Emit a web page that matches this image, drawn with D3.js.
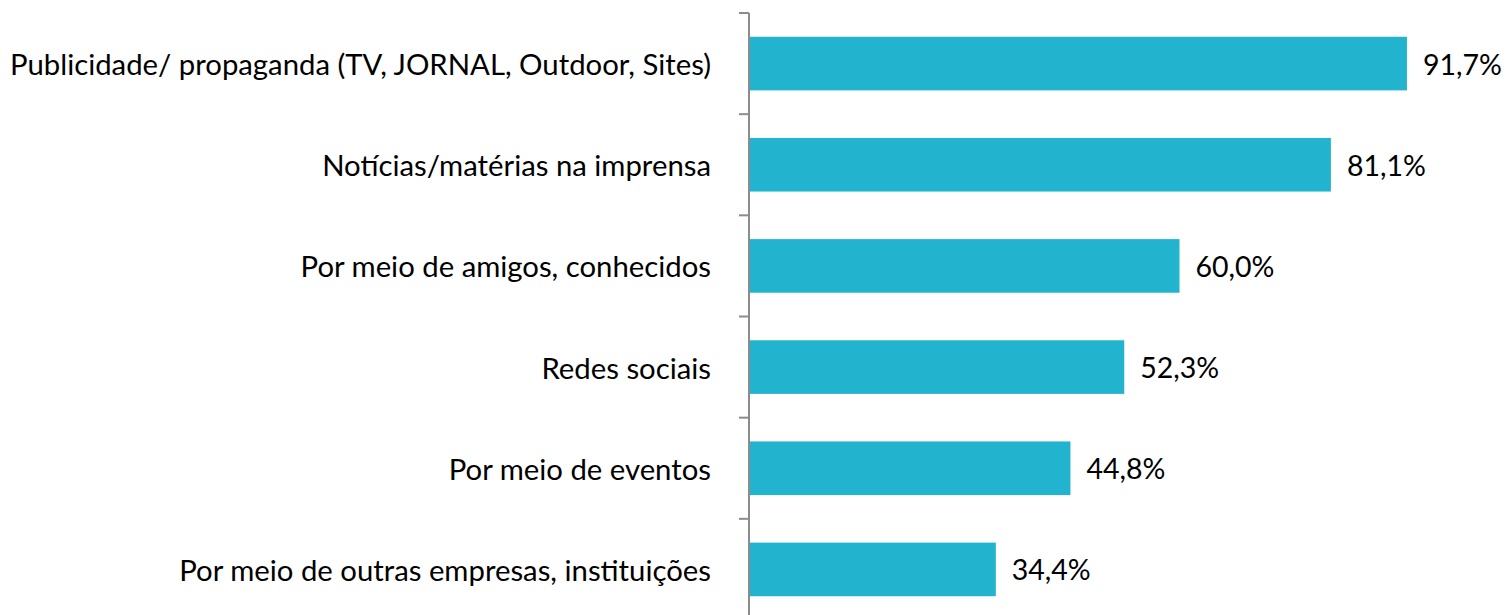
<!DOCTYPE html>
<html>
<head>
<meta charset="utf-8">
<script src="https://cdn.jsdelivr.net/npm/d3@7"></script>
<style>
  body { margin: 0; background: #fff; }
  text { font-family: Lato, "Open Sans", sans-serif; fill: #000; }
</style>
</head>
<body>
<div id="chart"></div>
<script>
let categories = [
  "Publicidade/ propaganda (TV, JORNAL, Outdoor, Sites)",
  "Notícias/matérias na imprensa",
  "Por meio de amigos, conhecidos",
  "Redes sociais",
  "Por meio de eventos",
  "Por meio de outras empresas, instituições"
];
let values = [91.7, 81.1, 60.0, 52.3, 44.8, 34.4];
let valueLabels = ["91,7%", "81,1%", "60,0%", "52,3%", "44,8%", "34,4%"];

let svgWidth = 1508;
let svgHeight = 615;
let axisX = 749;

let svg = d3.select("#chart")
  .append("svg")
  .attr("width", svgWidth)
  .attr("height", svgHeight);

let x = d3.scaleLinear()
  .domain([0, 100])
  .range([axisX, axisX + 717.5]);

let y = d3.scaleBand()
  .domain(categories)
  .range([13, 620])
  .paddingInner(0.47)
  .paddingOuter(0.235);

// bars
svg.append("g")
  .selectAll("rect")
  .data(values)
  .enter()
  .append("rect")
  .attr("x", x(0))
  .attr("y", (d, i) => y(categories[i]))
  .attr("width", d => x(d) - x(0))
  .attr("height", y.bandwidth())
  .attr("fill", "#22B4CE");

// axis line + ticks at band edges
let step = y.step();
let axis = svg.append("g");
axis.append("line")
  .attr("x1", axisX).attr("x2", axisX)
  .attr("y1", 13).attr("y2", svgHeight)
  .attr("stroke", "#8c8c8c")
  .attr("stroke-width", 2);

axis.selectAll(".tick")
  .data(d3.range(categories.length + 1))
  .enter()
  .append("line")
  .attr("x1", axisX - 10).attr("x2", axisX)
  .attr("y1", i => 13 + i * step)
  .attr("y2", i => 13 + i * step)
  .attr("stroke", "#8c8c8c")
  .attr("stroke-width", 2);

// category labels
svg.append("g")
  .selectAll("text")
  .data(categories)
  .enter()
  .append("text")
  .attr("x", 711)
  .attr("y", d => y(d) + y.bandwidth() / 2)
  .attr("text-anchor", "end")
  .attr("dominant-baseline", "central")
  .attr("font-size", 29.3)
  .text(d => d);

// value labels
svg.append("g")
  .selectAll("text")
  .data(values)
  .enter()
  .append("text")
  .attr("x", d => x(d) + 16)
  .attr("y", (d, i) => y(categories[i]) + y.bandwidth() / 2)
  .attr("dominant-baseline", "central")
  .attr("font-size", 28.5)
  .text((d, i) => valueLabels[i]);
</script>
</body>
</html>
